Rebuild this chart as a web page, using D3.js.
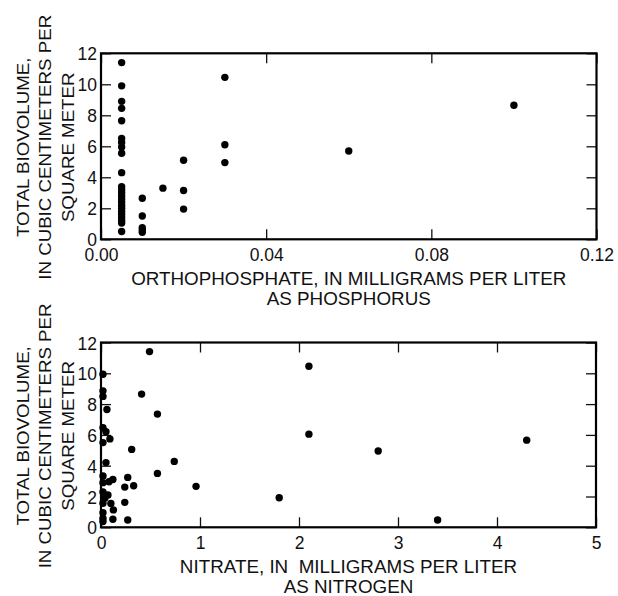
<!DOCTYPE html>
<html>
<head>
<meta charset="utf-8">
<script src="https://cdn.jsdelivr.net/npm/d3@7"></script>
<style>
  html, body { margin: 0; padding: 0; background: #fff; }
  svg { display: block; }
  text { font-family: "Liberation Sans", Arial, Helvetica, sans-serif; fill: #111; }
</style>
</head>
<body>
<svg id="chart" width="618" height="596"></svg>
<script>
// Orthophosphate (mg/L as P) vs. total biovolume (cm3/m2)
const phosphateX = [
  0.005, 0.005, 0.005, 0.005, 0.005, 0.005, 0.005, 0.005, 0.005, 0.005, 0.005, 0.005,
  0.005, 0.005, 0.005, 0.005, 0.005, 0.005, 0.005, 0.005, 0.005, 0.005, 0.005, 0.005,
  0.01, 0.01, 0.01, 0.01, 0.01,
  0.015,
  0.02, 0.02, 0.02,
  0.03, 0.03, 0.03,
  0.06,
  0.1
];
const phosphateY = [
  11.4, 9.9, 8.9, 8.45, 7.65, 6.5, 6.25, 5.95, 5.55, 4.3, 3.4, 3.2,
  3.0, 2.8, 2.6, 2.4, 2.2, 2.0, 1.8, 1.6, 1.4, 1.2, 1.05, 0.5,
  2.65, 1.5, 0.75, 0.6, 0.45,
  3.3,
  5.1, 3.15, 1.95,
  10.45, 6.1, 4.95,
  5.7,
  8.65
];

// Nitrate (mg/L as N) vs. total biovolume (cm3/m2)
const nitrateX = [
  0.02, 0.02, 0.02, 0.06, 0.02, 0.05, 0.09, 0.02, 0.05, 0.02, 0.08, 0.12,
  0.02, 0.07, 0.02, 0.02, 0.1, 0.125, 0.02, 0.02, 0.02, 0.12, 0.04,
  0.49, 0.41, 0.57, 0.31, 0.74, 0.57, 0.96, 0.27, 0.24, 0.33, 0.24, 0.27,
  1.8, 2.1, 2.1, 2.8, 3.4, 4.3
];
const nitrateY = [
  9.94, 8.86, 8.5, 7.65, 6.46, 6.2, 5.74, 5.5, 4.2, 3.33, 2.96, 3.1,
  2.9, 2.1, 2.3, 1.56, 1.55, 1.13, 0.95, 0.58, 0.38, 0.52, 1.9,
  11.41, 8.65, 7.35, 5.06, 4.28, 3.5, 2.66, 3.24, 2.61, 2.7, 1.62, 0.47,
  1.92, 10.46, 6.05, 4.95, 0.47, 5.66
];

// Axis ticks
const biovolumeTicks = [0, 2, 4, 6, 8, 10, 12];
const phosphateTicks = [0, 0.04, 0.08, 0.12];
const phosphateTickLabels = ["0.00", "0.04", "0.08", "0.12"];
const nitrateTicks = [0, 1, 2, 3, 4, 5];
const nitrateTickLabels = ["0", "1", "2", "3", "4", "5"];

const yLabelLines = ["TOTAL BIOVOLUME,", "IN CUBIC CENTIMETERS PER", "SQUARE METER"];
const phosphateTitle = ["ORTHOPHOSPHATE, IN MILLIGRAMS PER LITER", "AS PHOSPHORUS"];
const nitrateTitle = ["NITRATE, IN\u00a0\u00a0MILLIGRAMS PER LITER", "AS NITROGEN"];

const svg = d3.select("#chart");

// widen a text run horizontally (the lettering is a little broader than Liberation Sans)
function widen(sel, factor) {
  const len = sel.node().getComputedTextLength();
  sel.attr("textLength", len * factor).attr("lengthAdjust", "spacingAndGlyphs");
}

function panel(opts) {
  const { left, right, top, bottom, xDomain, xTicks, xTickLabels, xs, ys, title } = opts;
  const x = d3.scaleLinear().domain(xDomain).range([left, right]);
  const y = d3.scaleLinear().domain([0, 12]).range([bottom, top]);
  const g = svg.append("g");
  const tickFont = "17.5px";
  const tickLen = 10;

  // bottom axis with labels, ticks pointing inward
  const bx = g.append("g").attr("transform", `translate(0,${bottom})`)
    .call(d3.axisBottom(x).tickValues(xTicks)
      .tickFormat((d, i) => xTickLabels[i]).tickSize(-tickLen).tickPadding(9));
  // top axis, ticks only
  const tx = g.append("g").attr("transform", `translate(0,${top})`)
    .call(d3.axisTop(x).tickValues(xTicks).tickFormat("").tickSize(-tickLen));
  // left axis with labels
  const ly = g.append("g").attr("transform", `translate(${left},0)`)
    .call(d3.axisLeft(y).tickValues(biovolumeTicks).tickSize(-tickLen).tickPadding(4));
  // right axis, ticks only
  const ry = g.append("g").attr("transform", `translate(${right},0)`)
    .call(d3.axisRight(y).tickValues(biovolumeTicks).tickFormat("").tickSize(-tickLen));

  [bx, tx, ly, ry].forEach(a => {
    a.select(".domain").remove();
    a.selectAll(".tick line").attr("stroke", "#111").attr("stroke-width", 1.3);
    a.selectAll("text").attr("font-size", tickFont).attr("fill", "#111")
      .attr("font-family", '"Liberation Sans", Arial, sans-serif');
  });
  ly.selectAll("text").attr("dy", "0.38em");

  // frame
  g.append("rect")
    .attr("x", left).attr("y", top)
    .attr("width", right - left).attr("height", bottom - top)
    .attr("fill", "none").attr("stroke", "#000").attr("stroke-width", 2.2);

  // points
  g.append("g").selectAll("circle")
    .data(xs.map((v, i) => [v, ys[i]]))
    .join("circle")
    .attr("cx", d => x(d[0])).attr("cy", d => y(d[1]))
    .attr("r", 3.7).attr("fill", "#000");

  // x title
  const cx = (left + right) / 2;
  title.forEach((t, i) => {
    const tt = g.append("text").attr("x", cx).attr("y", bottom + 46 + i * 19.5)
      .attr("text-anchor", "middle").attr("font-size", "17.5px").text(t);
    widen(tt, 1.075);
  });

  // y title
  const cy = (top + bottom) / 2 + 1;
  const baseX = [28.5, 51, 73.5];
  yLabelLines.forEach((t, i) => {
    const tt = g.append("text")
      .attr("transform", `translate(${baseX[i]},${cy}) rotate(-90)`)
      .attr("text-anchor", "middle").attr("font-size", "17px").text(t);
    widen(tt, 1.1);
  });
}

panel({
  left: 101, right: 596.5, top: 53.3, bottom: 239.3,
  xDomain: [0, 0.12], xTicks: phosphateTicks, xTickLabels: phosphateTickLabels,
  xs: phosphateX, ys: phosphateY, title: phosphateTitle
});
panel({
  left: 101, right: 596, top: 342.5, bottom: 527.3,
  xDomain: [0, 5], xTicks: nitrateTicks, xTickLabels: nitrateTickLabels,
  xs: nitrateX, ys: nitrateY, title: nitrateTitle
});
</script>
</body>
</html>
